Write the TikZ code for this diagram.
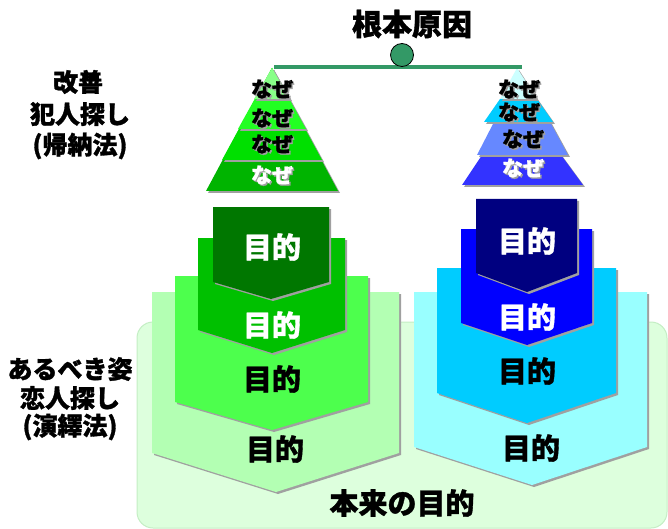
\documentclass[tikz,border=0pt]{standalone}
\usepackage{fontspec}
\newfontfamily\jp{Noto Sans CJK JP}[BoldFeatures={FakeBold=1.2}]
\definecolor{rootgreen}{HTML}{339966}
\definecolor{bgfill}{HTML}{DDFFDD}
\definecolor{bgline}{HTML}{C4EEC4}
\definecolor{shd}{HTML}{A0A0A0}
\definecolor{lgA}{HTML}{88FF88}
\definecolor{lgB}{HTML}{22FF22}
\definecolor{lgC}{HTML}{00E000}
\definecolor{lgD}{HTML}{00B400}
\definecolor{blA}{HTML}{CCFFFF}
\definecolor{blB}{HTML}{00CCFF}
\definecolor{blC}{HTML}{6688FF}
\definecolor{blD}{HTML}{3333FF}
\definecolor{pgA}{HTML}{007700}
\definecolor{pgB}{HTML}{00C000}
\definecolor{pgC}{HTML}{4DFF4D}
\definecolor{pgD}{HTML}{B3FFB3}
\definecolor{pbA}{HTML}{000080}
\definecolor{pbB}{HTML}{0000FF}
\definecolor{pbC}{HTML}{00CCFF}
\definecolor{pbD}{HTML}{99FFFF}
% pentagon: left, right, top, side bottom, point x, point y, colour
\newcommand\mypent[7]{%
  \fill[shd] (#1+2,#3+2) -- (#2+2,#3+2) -- (#2+2,#4+2) -- (#5+2,#6+2) -- (#1+2,#4+2) -- cycle;
  \fill[#7] (#1,#3) -- (#2,#3) -- (#2,#4) -- (#5,#6) -- (#1,#4) -- cycle;}
% trapezoid: top y, top left, top right, bottom y, bottom left, bottom right, colour
\newcommand\mytrap[7]{%
  \fill[shd] (#2+2,#1+2) -- (#3+2,#1+2) -- (#6+2,#4+2) -- (#5+2,#4+2) -- cycle;
  \fill[#7] (#2,#1) -- (#3,#1) -- (#6,#4) -- (#5,#4) -- cycle;}
\begin{document}
\begin{tikzpicture}[x=1pt,y=-1pt,
  lbl/.style={font=\jp\bfseries\fontsize{25}{25}\selectfont, inner sep=0pt, text=black},
  mok/.style={font=\jp\bfseries\fontsize{29}{29}\selectfont, inner sep=0pt},
  nz/.style={font=\jp\bfseries\fontsize{21}{21}\selectfont, inner sep=0pt},
  nzs/.style={nz, text=shd},
  rootline/.style={draw=rootgreen, line width=3.5pt}]
\useasboundingbox (0,0) rectangle (668,529);
% background
\draw[fill=bgfill, draw=bgline, line width=1pt, rounded corners=16pt] (137,322) rectangle (667,528);
% left pentagons (green)
\mypent{152}{399}{292}{453}{276}{492}{pgD}
\mypent{175}{368}{276}{402}{272}{430}{pgC}
\mypent{198}{345}{238}{330}{272}{353}{pgB}
\mypent{213}{329}{207}{282}{271}{299}{pgA}
% right pentagons (blue)
\mypent{414}{647}{292}{447}{532}{485}{pbD}
\mypent{437}{616}{268}{393}{527}{423}{pbC}
\mypent{461}{592}{229}{323}{527}{345}{pbB}
\mypent{476}{577}{199}{273}{527}{292}{pbA}
% purpose labels
\node[mok, text=white] (gp1) at (272,247) {目的};
\node[mok, text=white] (gp2) at (272,325) {目的};
\node[mok, text=black] (gp3) at (272,379) {目的};
\node[mok, text=black] (gp4) at (275,449) {目的};
\node[mok, text=white] (bp1) at (527,241) {目的};
\node[mok, text=white] (bp2) at (527,317) {目的};
\node[mok, text=black] (bp3) at (527,371) {目的};
\node[mok, text=black] (bp4) at (531,448) {目的};
\node[mok, text=black] (goal) at (402,503) {本来の目的};
% left pyramid (green)
\mytrap{68}{272}{272}{191}{206}{338}{lgD}
\mytrap{68}{272}{272}{160}{222}{322}{lgC}
\mytrap{68}{272}{272}{129}{238}{306}{lgB}
\mytrap{68}{272}{272}{99}{254}{290}{lgA}
% right pyramid (blue)
\mytrap{155}{482}{561}{185}{462}{583}{blD}
\mytrap{122}{494}{550}{155}{477}{568}{blC}
\mytrap{99}{500}{537}{122}{484}{553}{blB}
\mytrap{68}{517}{517}{99}{500}{537}{blA}
% naze labels
\node[nzs] at (273.5,90.5) {なぜ};
\node[nz] (gn1) at (272,89) {なぜ};
\node[nzs] at (273.5,119.5) {なぜ};
\node[nz] (gn2) at (272,118) {なぜ};
\node[nzs] at (273.5,145.5) {なぜ};
\node[nz] (gn3) at (272,144) {なぜ};
\node[nzs] at (273.5,176.5) {なぜ};
\node[nz, text=white] (gn4) at (272,175) {なぜ};
\node[nzs] at (520.5,90.5) {なぜ};
\node[nz] (bn1) at (519,89) {なぜ};
\node[nzs] at (520.5,113.5) {なぜ};
\node[nz] (bn2) at (519,112) {なぜ};
\node[nzs] at (524.5,140.5) {なぜ};
\node[nz] (bn3) at (523,139) {なぜ};
\node[nzs] at (524.5,169.5) {なぜ};
\node[nz, text=white] (bn4) at (523,168) {なぜ};
% root cause
\coordinate (lend) at (274,67);
\coordinate (rend) at (522,67);
\draw[rootline] (lend) -- (rend);
\node[circle, draw=black, line width=0.8pt, fill=rootgreen, minimum size=23pt, inner sep=0pt] (root) at (402,55) {};
\node[font=\jp\bfseries\fontsize{30}{30}\selectfont, inner sep=0pt] (title) at (412,24) {根本原因};
% side labels
\node[lbl] (l1) at (78,82) {改善};
\node[lbl] (l2) at (80,114) {犯人探し};
\node[lbl] (l3) at (80,146) {(帰納法)};
\node[lbl] (r1) at (70,369) {あるべき姿};
\node[lbl] (r2) at (70,398) {恋人探し};
\node[lbl] (r3) at (70,427) {(演繹法)};
\end{tikzpicture}
\end{document}
